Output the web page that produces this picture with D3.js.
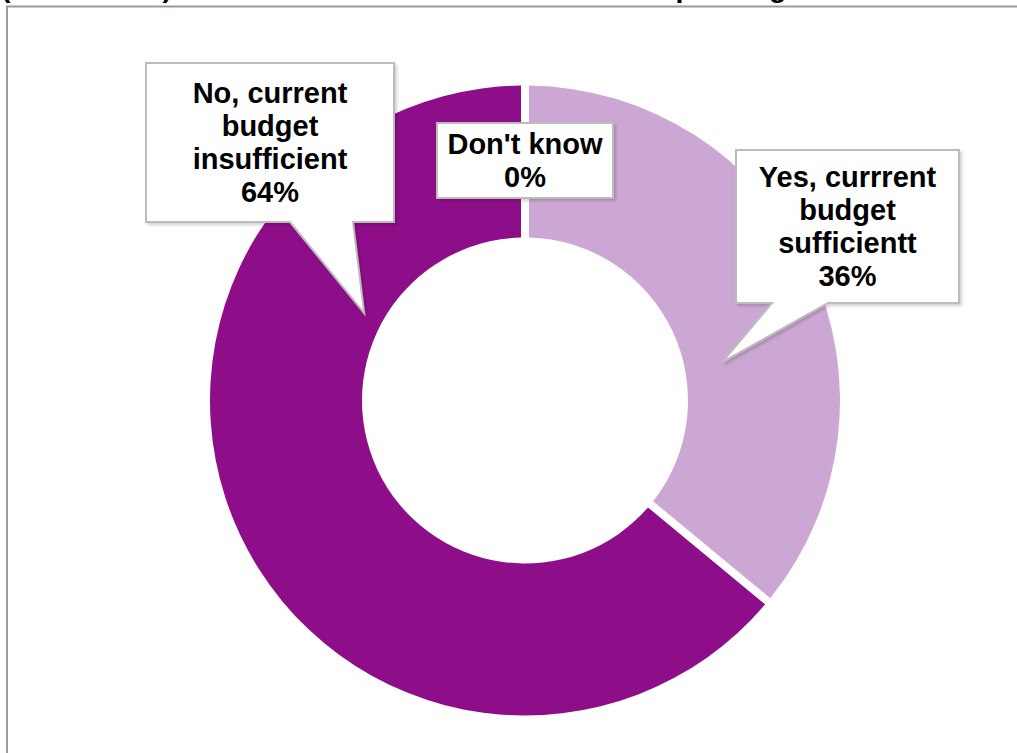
<!DOCTYPE html>
<html>
<head>
<meta charset="utf-8">
<script src="https://cdn.jsdelivr.net/npm/d3@7"></script>
<style>
  html, body { margin: 0; padding: 0; background: #fff; }
  svg { display: block; }
  text { font-family: "Liberation Sans", Arial, sans-serif; font-weight: bold; }
</style>
</head>
<body>
<div id="chart"></div>
<script>
// Survey answers, in the order they run clockwise from 12 o'clock
const categories = ["Yes, currrent budget sufficientt", "No, current budget insufficient", "Don't know"];
const values = [36, 64, 0];
const colors = ["#cda7d3", "#8e0e8a", "#b9b9b9"];
// label text lines (the value line is appended from the data)
const labelLines = [
  ["Yes, currrent", "budget", "sufficientt"],
  ["No, current", "budget", "insufficient"],
  ["Don't know"]
];
const titleText = "(All schools) Is the current amount sufficient for spending";

const W = 1017, H = 753;
const cx = 525, cy = 400.5;
const outerR = 315, innerR = 163;
const gapPx = 8;

const svg = d3.select("#chart").append("svg")
  .attr("width", W).attr("height", H);

// chart title, running off the top edge
svg.append("text")
  .attr("x", 1).attr("y", -3)
  .attr("font-size", 28.5)
  .attr("fill", "#000")
  .text(titleText);

// chart area frame
svg.append("rect")
  .attr("x", 7).attr("y", 6.5)
  .attr("width", W + 20).attr("height", H + 20)
  .attr("fill", "none")
  .attr("stroke", "#9a9a9a")
  .attr("stroke-width", 2);

const data = categories.map((c, i) => ({ name: c, value: values[i], color: colors[i], lines: labelLines[i] }));

const pie = d3.pie().value(d => d.value).sort(null);
const arcs = pie(data);

const arc = d3.arc()
  .innerRadius(innerR)
  .outerRadius(outerR)
  .padRadius(outerR)
  .padAngle(gapPx / outerR);

const g = svg.append("g").attr("transform", `translate(${cx},${cy})`);

g.selectAll("path.slice")
  .data(arcs)
  .join("path")
  .attr("class", "slice")
  .attr("d", arc)
  .attr("fill", d => d.data.color);

// callout boxes: bounds relative to the donut centre, pointer tip in polar form
const callouts = [
  { i: 0, x0: 211, y0: -250.5, x1: 434, y1: -97.5, base: [247, 303], tipAngle: 79, tipR: 201 },
  { i: 1, x0: -379, y0: -337.5, x1: -131, y1: -178.5, base: [-235, -172], tipAngle: -61.5, tipR: 183 },
  { i: 2, x0: -88, y0: -277.5, x1: 88, y1: -202.5, base: null }
];

const defs = svg.append("defs");
const f = defs.append("filter").attr("id", "shadow")
  .attr("x", "-10%").attr("y", "-10%").attr("width", "130%").attr("height", "130%");
f.append("feDropShadow").attr("dx", 2).attr("dy", 2).attr("stdDeviation", 1.5)
  .attr("flood-color", "#000").attr("flood-opacity", 0.18);

const lineH = 33;
const fontSize = 29;

callouts.forEach(c => {
  const a = arcs[c.i];
  let path;
  if (c.base) {
    const t = c.tipAngle * Math.PI / 180;
    const tx = c.tipR * Math.sin(t), ty = -c.tipR * Math.cos(t);
    const bl = Math.min(c.base[0], c.base[1]), br = Math.max(c.base[0], c.base[1]);
    path = `M${c.x0},${c.y0}H${c.x1}V${c.y1}H${br}L${tx},${ty}L${bl},${c.y1}H${c.x0}Z`;
  } else {
    path = `M${c.x0},${c.y0}H${c.x1}V${c.y1}H${c.x0}Z`;
  }
  g.append("path")
    .attr("d", path)
    .attr("fill", "#fff")
    .attr("stroke", "#bcbcbc")
    .attr("stroke-width", 2)
    .attr("filter", "url(#shadow)");

  const lines = a.data.lines.concat([d3.format(".0f")(a.data.value) + "%"]);
  const midX = (c.x0 + c.x1) / 2;
  const midY = (c.y0 + c.y1) / 2;
  const firstBaseline = midY - (lines.length - 1) * lineH / 2 + fontSize * 0.36;
  const t = g.append("text")
    .attr("text-anchor", "middle")
    .attr("font-size", fontSize)
    .attr("fill", "#000");
  lines.forEach((ln, k) => {
    t.append("tspan")
      .attr("x", midX)
      .attr("y", firstBaseline + k * lineH)
      .text(ln);
  });
});
</script>
</body>
</html>
